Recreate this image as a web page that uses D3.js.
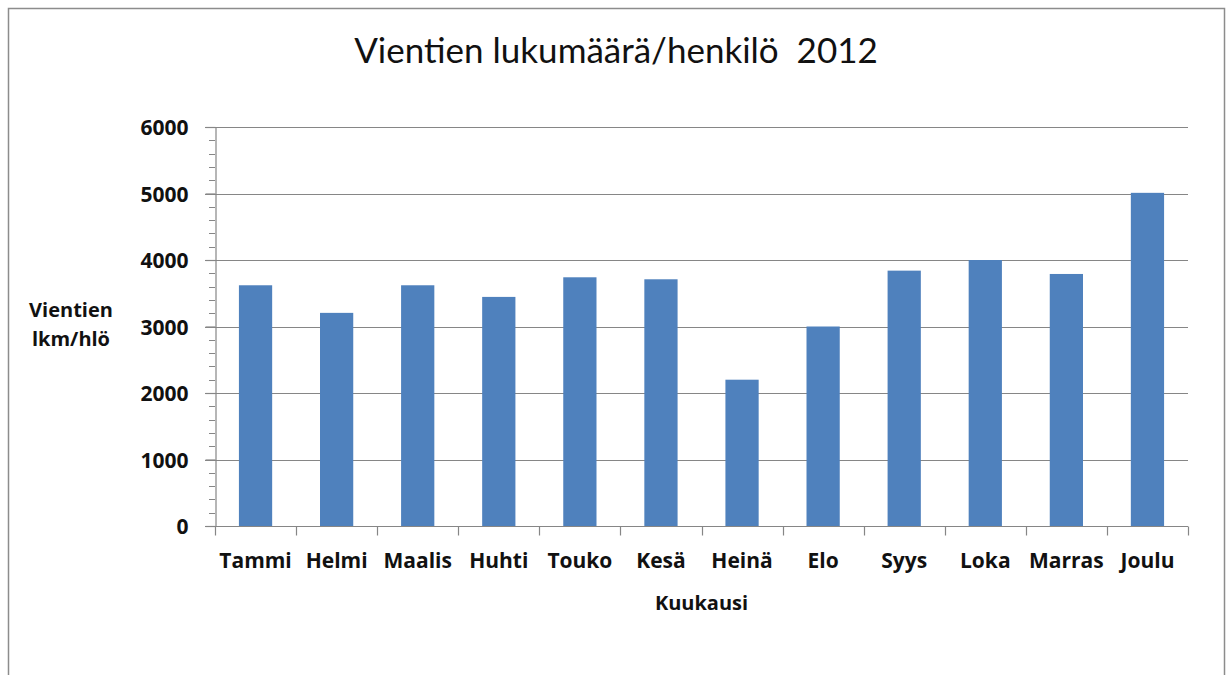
<!DOCTYPE html>
<html>
<head>
<meta charset="utf-8">
<script src="https://cdn.jsdelivr.net/npm/d3@7"></script>
<style>
  html, body { margin: 0; padding: 0; background: #fff; }
  svg { display: block; }
  text { font-family: "Open Sans", Lato, sans-serif; fill: #111; }
</style>
</head>
<body>
<svg id="chart" width="1226" height="675"></svg>
<script>
// Monthly number of exports per person, 2012
const months = ["Tammi", "Helmi", "Maalis", "Huhti", "Touko", "Kesä",
                "Heinä", "Elo", "Syys", "Loka", "Marras", "Joulu"];
const exportsPerPerson = [3620, 3205, 3620, 3445, 3740, 3710,
                          2200, 3000, 3840, 4000, 3790, 5010];
const yTickValues = [0, 1000, 2000, 3000, 4000, 5000, 6000];
const titleText = "Vientien lukumäärä/henkilö  2012";
const xTitle = "Kuukausi";
const yTitleLines = ["Vientien", "lkm/hlö"];

const svg = d3.select("#chart");
const plot = { left: 215, right: 1188, top: 127, bottom: 526 };

// outer chart frame
svg.append("rect")
  .attr("x", 8.5).attr("y", 8.5)
  .attr("width", 1216).attr("height", 700)
  .attr("fill", "#fff")
  .attr("stroke", "#8c8c8c")
  .attr("stroke-width", 1.5);

const x = d3.scaleBand()
  .domain(months)
  .range([plot.left, plot.right])
  .paddingInner(0.59)
  .paddingOuter(0.295);

const y = d3.scaleLinear()
  .domain([0, 6000])
  .range([plot.bottom, plot.top]);

const gridColor = "#868686";
const labelFont = "'Open Sans', sans-serif";

// horizontal gridlines
svg.append("g")
  .selectAll("line")
  .data(yTickValues.filter(v => v > 0))
  .join("line")
  .attr("x1", plot.left - 10).attr("x2", plot.right)
  .attr("y1", d => Math.round(y(d)) + 0.5).attr("y2", d => Math.round(y(d)) + 0.5)
  .attr("stroke", gridColor).attr("stroke-width", 1.2);

// bars
svg.append("g")
  .selectAll("rect")
  .data(months.map((m, i) => ({ m, v: exportsPerPerson[i] })))
  .join("rect")
  .attr("x", d => x(d.m))
  .attr("y", d => y(d.v))
  .attr("width", x.bandwidth())
  .attr("height", d => y(0) - y(d.v))
  .attr("fill", "#4f81bd");

// y axis with major labels
const yAxis = svg.append("g")
  .attr("transform", `translate(${plot.left + 0.5},0)`)
  .call(d3.axisLeft(y).tickValues(yTickValues).tickFormat(d3.format("d"))
          .tickSize(10).tickPadding(17));
yAxis.select(".domain").attr("stroke", gridColor).attr("stroke-width", 1.2);
yAxis.selectAll(".tick line").attr("stroke", gridColor).attr("stroke-width", 1.2);
yAxis.selectAll(".tick text")
  .style("font-family", labelFont)
  .style("font-size", "21px")
  .style("font-weight", "bold")
  .attr("fill", "#111")
  .attr("dy", "0.36em");

// minor ticks every 200
svg.append("g")
  .selectAll("line")
  .data(d3.range(200, 6000, 200).filter(v => v % 1000 !== 0))
  .join("line")
  .attr("x1", plot.left - 6).attr("x2", plot.left)
  .attr("y1", d => Math.round(y(d)) + 0.5).attr("y2", d => Math.round(y(d)) + 0.5)
  .attr("stroke", gridColor).attr("stroke-width", 1);

// x axis baseline and category boundary ticks
const xAxis = svg.append("g")
  .attr("transform", `translate(0,${plot.bottom + 0.5})`);
xAxis.append("line")
  .attr("x1", plot.left - 10).attr("x2", plot.right)
  .attr("stroke", gridColor).attr("stroke-width", 1.2);
xAxis.selectAll("line.tick")
  .data(d3.range(months.length + 1))
  .join("line")
  .attr("class", "tick")
  .attr("x1", i => Math.round(plot.left + i * x.step()) + 0.5)
  .attr("x2", i => Math.round(plot.left + i * x.step()) + 0.5)
  .attr("y1", 0).attr("y2", 9)
  .attr("stroke", gridColor).attr("stroke-width", 1.2);
xAxis.selectAll("text")
  .data(months)
  .join("text")
  .attr("x", d => x(d) + x.bandwidth() / 2)
  .attr("y", 41)
  .attr("text-anchor", "middle")
  .style("font-size", "21px")
  .style("font-weight", "bold")
  .text(d => d);

// titles
svg.append("text")
  .attr("x", 616).attr("y", 63)
  .attr("text-anchor", "middle")
  .style("font-family", "Lato, sans-serif")
  .style("font-size", "35px")
  .style("white-space", "pre")
  .text(titleText);

svg.append("text")
  .attr("x", (plot.left + plot.right) / 2).attr("y", 610)
  .attr("text-anchor", "middle")
  .style("font-size", "20px")
  .style("font-weight", "bold")
  .text(xTitle);

svg.append("text")
  .attr("x", 71).attr("y", 317)
  .attr("text-anchor", "middle")
  .style("font-size", "20px")
  .style("font-weight", "bold")
  .selectAll("tspan")
  .data(yTitleLines)
  .join("tspan")
  .attr("x", 71)
  .attr("dy", (d, i) => i === 0 ? 0 : 29)
  .text(d => d);
</script>
</body>
</html>
